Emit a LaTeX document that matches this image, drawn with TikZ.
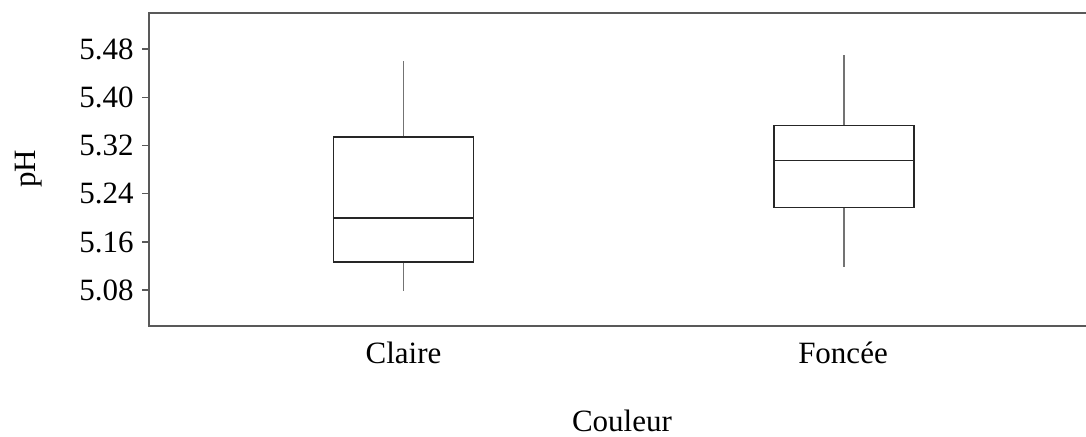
\documentclass[tikz,border=0pt]{standalone}
\usepackage{fontspec}
\setmainfont{Liberation Serif}
\usepackage{xcolor}
\usepackage{tikz}

\begin{document}
\begin{tikzpicture}[x=0.5pt,y=-0.5pt]
  \tikzstyle{lbl}=[font=\fontsize{15.5}{18}\selectfont,inner sep=0pt]
  \tikzstyle{frm}=[draw=black!65,line width=0.7pt]
  \tikzstyle{box}=[draw=black!85,line width=0.55pt,rectangle,inner sep=0pt,minimum width=70pt]
  \tikzstyle{whisk}=[draw=black!55,line width=0.6pt]

  \useasboundingbox (0,0) rectangle (1086,436);

  % Frame
  \coordinate (ftr) at (1086,13);
  \coordinate (ftl) at (149,13);
  \coordinate (fbl) at (149,326);
  \coordinate (fbr) at (1086,326);
  \draw[frm] (ftr) -- (ftl) -- (fbl) -- (fbr);

  % Y axis
  \node[lbl,anchor=east] (t548) at (134,49) {5.48};
  \node[lbl,anchor=east] (t540) at (134,97.5) {5.40};
  \node[lbl,anchor=east] (t532) at (134,145.5) {5.32};
  \node[lbl,anchor=east] (t524) at (134,193.7) {5.24};
  \node[lbl,anchor=east] (t516) at (134,242) {5.16};
  \node[lbl,anchor=east] (t508) at (134,290) {5.08};
  \draw[frm] (142,49) -- (149,49);
  \draw[frm] (142,97.5) -- (149,97.5);
  \draw[frm] (142,145.5) -- (149,145.5);
  \draw[frm] (142,193.7) -- (149,193.7);
  \draw[frm] (142,242) -- (149,242);
  \draw[frm] (142,290) -- (149,290);
  \node[lbl,rotate=90] (ylab) at (29,169) {pH};

  % Claire
  \node[box,minimum height=62.5pt] (bx1) at (403.5,199.5) {};
  \coordinate (w1t) at (403.5,61);
  \coordinate (w1b) at (403.5,290.5);
  \coordinate (m1) at (403.5,218);
  \draw[whisk] (bx1.north) -- (w1t);
  \draw[whisk] (bx1.south) -- (w1b);
  \draw[black!85,line width=0.55pt] (bx1.west |- m1) -- (bx1.east |- m1);
  \node[lbl] (x1) at (403.5,353) {Claire};

  % Foncee
  \node[box,minimum height=41.2pt] (bx2) at (844,166.5) {};
  \coordinate (w2t) at (844,55);
  \coordinate (w2b) at (844,266.5);
  \coordinate (m2) at (844,160.3);
  \draw[whisk] (bx2.north) -- (w2t);
  \draw[whisk] (bx2.south) -- (w2b);
  \draw[black!85,line width=0.55pt] (bx2.west |- m2) -- (bx2.east |- m2);
  \node[lbl] (x2) at (843,353) {Foncée};

  \node[lbl] (xlab) at (622,421) {Couleur};
\end{tikzpicture}
\end{document}
